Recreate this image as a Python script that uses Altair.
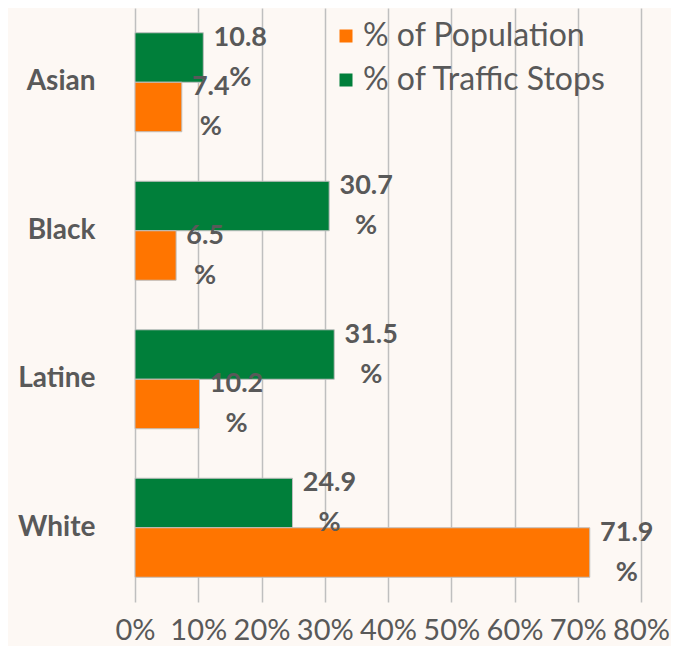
import altair as alt
import pandas as pd

groups = ["Asian", "Black", "Latine", "White"]
population = [7.4, 6.5, 10.2, 71.9]
stops = [10.8, 30.7, 31.5, 24.9]
series_names = ["% of Population", "% of Traffic Stops"]
tick_values = [0, 10, 20, 30, 40, 50, 60, 70, 80]

rows = []
for g, p, s in zip(groups, population, stops):
    rows.append({"group": g, "series": series_names[1], "value": s, "num": f"{s}", "label": f"{s}\n%"})
    rows.append({"group": g, "series": series_names[0], "value": p, "num": f"{p}", "label": f"{p}\n%"})
df = pd.DataFrame(rows)

FONT = "Lato"
GRAY = "#595959"

y_enc = alt.Y("group:N", sort=groups, title=None,
              scale=alt.Scale(paddingInner=1/3, paddingOuter=1/6),
              axis=alt.Axis(domain=False, ticks=False, labelFont=FONT, labelFontSize=28,
                            labelFontWeight="bold", labelColor=GRAY, labelPadding=40))
yoff = alt.YOffset("series:N", sort=[series_names[1], series_names[0]])
x_enc = alt.X("value:Q", title=None,
              scale=alt.Scale(domain=[0, 80], nice=False, zero=True),
              axis=alt.Axis(values=tick_values, labelExpr="datum.value + '%'", domain=False,
                            ticks=False, grid=True, gridColor="#BFBFBF", gridWidth=1.5,
                            labelFont=FONT, labelFontSize=29, labelColor=GRAY, labelPadding=14,
                            labelFlush=False, labelOverlap=False))

bars = alt.Chart(df).mark_bar(stroke="#BFBFBF", strokeWidth=1).encode(
    x=x_enc,
    y=y_enc,
    yOffset=yoff,
    color=alt.Color("series:N", sort=series_names,
                    scale=alt.Scale(domain=series_names, range=["#FF7500", "#007F3A"]),
                    legend=alt.Legend(title=None, orient="none", legendX=195, legendY=12,
                                      symbolType="square", symbolSize=169, symbolStrokeWidth=0,
                                      labelFont=FONT, labelFontSize=32, labelColor=GRAY,
                                      labelOffset=1, rowPadding=12, padding=0,
                                      labelLimit=400)),
)

labels = alt.Chart(df).mark_text(
    lineBreak="\n", align="center", baseline="middle", font=FONT, fontSize=27,
    fontWeight="bold", color=GRAY, lineHeight=40, dy=-20,
    dx=alt.ExprRef("datum.num.length > 3 ? 37 : 29"),
).encode(
    x="value:Q",
    y=alt.Y("group:N", sort=groups),
    yOffset=yoff,
    text="label:N",
)

chart = alt.layer(bars, labels).properties(
    width=506, height=594,
    background="#FDF8F4",
    autosize=alt.AutoSizeParams(type="none"),
    padding={"left": 127, "top": 0, "right": 30, "bottom": 44},
).configure_view(stroke=None)

chart.save("out.html", embed_options={"renderer": "svg", "actions": False})
